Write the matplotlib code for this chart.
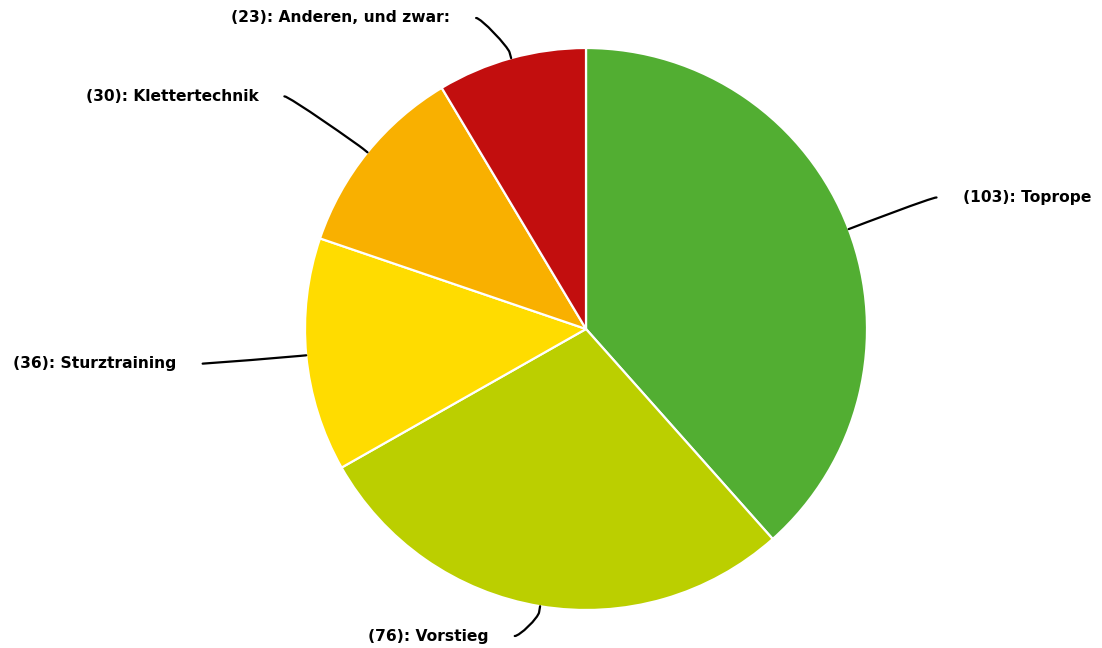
import numpy as np
import matplotlib
matplotlib.use("Agg")
import matplotlib.pyplot as plt
from matplotlib.path import Path
from matplotlib.patches import PathPatch

categories = ["Toprope", "Vorstieg", "Sturztraining", "Klettertechnik", "Anderen, und zwar:"]
values = [103, 76, 36, 30, 23]
colors = ["#52ae32", "#bbcf00", "#ffdc00", "#f9b000", "#c20e0e"]

W, H = 1102, 648
fig = plt.figure(figsize=(W / 100, H / 100), dpi=100)
ax = fig.add_axes([0, 0, 1, 1])

cx, cy, r = 586, H - 329, 281
wedges, _ = ax.pie(values, colors=colors, startangle=90, counterclock=False,
                   center=(cx, cy), radius=r,
                   wedgeprops=dict(edgecolor="white", linewidth=1.6))
ax.set_xlim(0, W)
ax.set_ylim(0, H)
ax.set_aspect("auto")
ax.axis("off")

total = sum(values)
cum = 0
R_x, R_y = 375, 370
left_pad = 10
ymin, ymax = H - 636, H - 18
for cat, v in zip(categories, values):
    mid = (cum + v / 2) / total * 2 * np.pi
    cum += v
    dx, dy = np.sin(mid), np.cos(mid)
    left = dx < 0
    touch = np.array([cx + r * dx, cy + r * dy])
    brk = np.array([cx + (r + 6) * dx, cy + (r + 6) * dy])
    lx = cx + R_x * dx - (left_pad if left else 0)
    ly = np.clip(cy + R_y * dy, ymin, ymax)
    c1 = (lx + (5 if left else -5), ly)
    c2 = tuple(2 * brk - touch)
    verts = [(lx, ly), c1, c2, tuple(brk), tuple(touch)]
    codes = [Path.MOVETO, Path.CURVE4, Path.CURVE4, Path.CURVE4, Path.LINETO]
    ax.add_patch(PathPatch(Path(verts, codes), fill=False, edgecolor="black",
                           linewidth=1.6, capstyle="round"))
    gap = 26
    tx = lx - gap if left else lx + gap
    ax.text(tx, ly, f"({v}): {cat}", ha="right" if left else "left", va="center",
            fontsize=11.2, fontweight="bold", color="black", family="DejaVu Sans")

fig.savefig("out.png", dpi=100)
